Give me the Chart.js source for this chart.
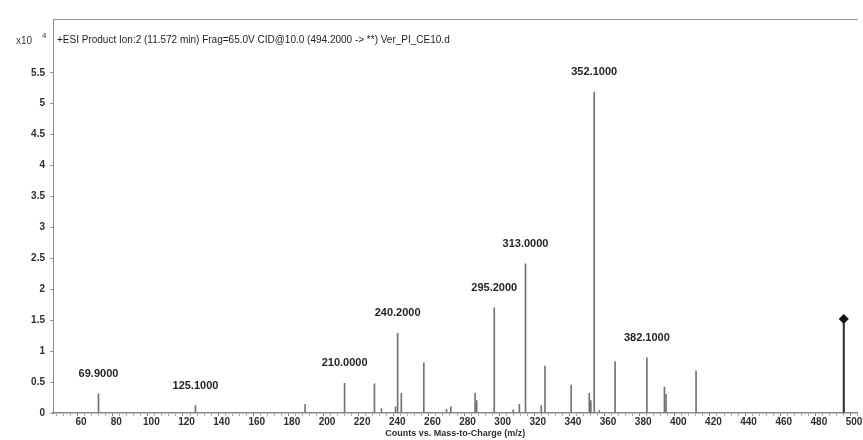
<!DOCTYPE html>
<html>
<head>
<meta charset="utf-8">
<script src="https://cdn.jsdelivr.net/npm/chart.js@4/dist/chart.umd.min.js"></script>
<style>
  html, body { margin: 0; padding: 0; background: #fff; }
  #wrap { width: 863px; height: 440px; position: relative; }
</style>
</head>
<body>
<div id="wrap"><canvas id="msChart"></canvas></div>
<script>
// Product ion peaks (m/z) and intensities in units of x10^4 counts
const mzValues = [69.9, 125.1, 187.5, 210.0, 227.0, 231.0, 239.0, 240.2, 242.3, 255.1, 268.0, 270.5,
                  284.3, 285.2, 295.2, 306.0, 309.5, 313.0, 322.0, 324.1, 339.0, 349.3, 350.2,
                  352.1, 355.0, 364.0, 382.1, 392.1, 393.0, 410.1];
const intensities = [0.31, 0.12, 0.14, 0.48, 0.47, 0.07, 0.10, 1.29, 0.32, 0.81, 0.06, 0.10,
                     0.32, 0.20, 1.70, 0.05, 0.14, 2.41, 0.12, 0.76, 0.45, 0.32, 0.20,
                     5.19, 0.04, 0.83, 0.89, 0.42, 0.30, 0.68];
// precursor ion (marked with a diamond)
const precursorMz = [494.2];
const precursorIntensity = [1.52];
// peaks that carry an m/z label
const labelledMz = [69.9, 125.1, 210.0, 240.2, 295.2, 313.0, 352.1, 382.1];
// axis ticks
const xTickLabels = [60, 80, 100, 120, 140, 160, 180, 200, 220, 240, 260, 280, 300, 320, 340, 360, 380, 400, 420, 440, 460, 480, 500];
const yTickLabels = [0, 0.5, 1, 1.5, 2, 2.5, 3, 3.5, 4, 4.5, 5, 5.5];

const titleText = '+ESI Product Ion:2 (11.572 min) Frag=65.0V CID@10.0 (494.2000 -> **) Ver_PI_CE10.d';

const peakPoints = mzValues.map((m, i) => ({ x: m, y: intensities[i] }));
const precursorPoints = precursorMz.map((m, i) => ({ x: m, y: precursorIntensity[i] }));

// minor tick marks every 4 m/z along the bottom axis
const minorTicks = [];
for (let v = 48; v <= 500; v += 4) minorTicks.push(v);

const textPlugin = {
    id: 'msText',
    afterDatasetsDraw(chart) {
        const ctx = chart.ctx;
        const xs = chart.scales.x;
        const ys = chart.scales.y;
        ctx.save();
        ctx.fillStyle = '#262626';
        ctx.textAlign = 'center';
        ctx.textBaseline = 'middle';
        ctx.font = 'bold 11px "Liberation Sans", Arial, sans-serif';
        labelledMz.forEach(m => {
            const i = mzValues.indexOf(m);
            const px = xs.getPixelForValue(m);
            const py = ys.getPixelForValue(intensities[i]) - 20;
            ctx.fillText(m.toFixed(4), px, py);
        });

        // header inside the frame
        ctx.textAlign = 'left';
        ctx.font = '10px "Liberation Sans", Arial, sans-serif';
        ctx.fillStyle = '#1e1e1e';
        ctx.fillText(titleText, chart.chartArea.left + 4, 40);

        // x10^4 exponent
        ctx.font = '10px "Liberation Sans", Arial, sans-serif';
        ctx.fillStyle = '#3a3a3a';
        ctx.fillText('x10', 16, 41);
        ctx.font = '8px "Liberation Sans", Arial, sans-serif';
        ctx.fillText('4', 42, 36);
        ctx.restore();
    }
};

const ctx = document.getElementById('msChart').getContext('2d');
new Chart(ctx, {
    type: 'bar',
    data: {
        datasets: [
            {
                label: 'Peaks',
                data: peakPoints,
                backgroundColor: '#737373',
                barThickness: 1,
                grouped: false,
                order: 2
            },
            {
                label: 'Precursor',
                data: precursorPoints,
                backgroundColor: '#3a3a3a',
                barThickness: 1.5,
                grouped: false,
                order: 2
            },
            {
                type: 'scatter',
                label: 'Precursor marker',
                data: precursorPoints,
                pointStyle: 'rectRot',
                pointRadius: 4.5,
                backgroundColor: '#111',
                borderColor: '#111',
                order: 1
            }
        ]
    },
    options: {
        responsive: true,
        maintainAspectRatio: false,
        animation: false,
        layout: { padding: 0 },
        plugins: {
            legend: { display: false },
            tooltip: { enabled: false }
        },
        scales: {
            x: {
                type: 'linear',
                position: 'bottom',
                min: 44,
                max: 502,
                offset: false,
                afterBuildTicks: scale => {
                    scale.ticks = minorTicks.map(v => ({ value: v }));
                },
                afterFit: scale => { scale.height = 27; },
                ticks: {
                    autoSkip: false,
                    maxRotation: 0,
                    padding: 0,
                    color: '#2e2e2e',
                    font: { size: 10, weight: 'bold', family: '"Liberation Sans", Arial, sans-serif' },
                    callback: v => xTickLabels.includes(v) ? String(v) : ''
                },
                grid: {
                    drawOnChartArea: false,
                    tickLength: 3,
                    color: ctx2 => (ctx2.tick && xTickLabels.includes(ctx2.tick.value)) ? '#777' : '#aaa'
                },
                border: { color: '#8a8a8a', width: 1.5 },
                title: {
                    display: true,
                    text: 'Counts vs. Mass-to-Charge (m/z)',
                    color: '#2e2e2e',
                    padding: { top: 0, bottom: 1 },
                    font: { size: 9, weight: 'bold', family: '"Liberation Sans", Arial, sans-serif' }
                }
            },
            top: {
                type: 'linear',
                position: 'top',
                min: 0,
                max: 1,
                afterFit: scale => { scale.height = 19; },
                ticks: { display: false },
                grid: { display: false },
                border: { color: '#9a9a9a', width: 1 }
            },
            y: {
                type: 'linear',
                min: 0,
                max: 6.37,
                afterBuildTicks: scale => {
                    scale.ticks = yTickLabels.map(v => ({ value: v }));
                },
                afterFit: scale => { scale.width = 53; },
                ticks: {
                    autoSkip: false,
                    padding: 5,
                    color: '#2e2e2e',
                    font: { size: 10, weight: 'bold', family: '"Liberation Sans", Arial, sans-serif' },
                    callback: v => String(v)
                },
                grid: {
                    drawOnChartArea: false,
                    tickLength: 3,
                    color: '#999'
                },
                border: { color: '#8a8a8a', width: 1 }
            }
        }
    },
    plugins: [textPlugin]
});
</script>
</body>
</html>
